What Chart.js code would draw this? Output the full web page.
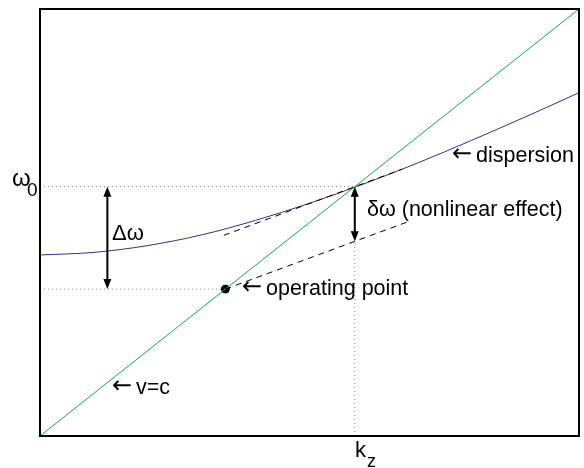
<!DOCTYPE html>
<html>
<head>
<meta charset="utf-8">
<script src="https://cdn.jsdelivr.net/npm/chart.js@4"></script>
<style>
  html, body { margin: 0; padding: 0; background: #fff; }
  #wrap { width: 584px; height: 468px; }
</style>
</head>
<body>
<div id="wrap"><canvas id="c" width="584" height="468"></canvas></div>
<script>
// values (axes run 0..1 in both directions)
const kGrid = [0, 0.1, 0.2, 0.3, 0.4, 0.5, 0.6, 0.7, 0.8, 0.9, 1.0];
const dispersionOmega = [0.424, 0.430, 0.446, 0.471, 0.505, 0.545, 0.590, 0.639, 0.692, 0.747, 0.804];
const lightK = [0, 1];
const lightOmega = [0, 1];
const tangentK = [0.341, 0.672];
const tangentOmega = [0.470, 0.625];
const shiftedK = [0.344, 0.681];
const shiftedOmega = [0.344, 0.501];
const k0 = 0.584;        // k_z
const omega0 = 0.584;    // ω0
const opK = 0.344;       // operating point
const opOmega = 0.344;
const nonlinOmega = 0.456;  // bottom of the δω arrow
const bigArrowK = 0.125;    // Δω arrow

const pts = (xs, ys) => xs.map((x, i) => ({ x, y: ys[i] }));
const FONT = '"Liberation Sans", Arial, Helvetica, sans-serif';

const line = (data, color, extra) => Object.assign({
  data, showLine: true, borderColor: color, borderWidth: 1, pointRadius: 0, fill: false, tension: 0
}, extra || {});

const dotted = { borderDash: [1, 3], borderColor: '#888' };

const overlay = {
  id: 'overlay',
  afterDatasetsDraw(chart) {
    const { ctx, chartArea: a, scales: { x, y } } = chart;
    const px = v => x.getPixelForValue(v);
    const py = v => y.getPixelForValue(v);

    // frame
    ctx.save();
    ctx.strokeStyle = '#000';
    ctx.lineWidth = 2;
    ctx.strokeRect(a.left, a.top, a.right - a.left, a.bottom - a.top);

    // double arrows
    const dblArrow = (xv, y1, y2) => {
      const X = px(xv), A = py(y1), B = py(y2);
      const h = 9, w = 4;
      ctx.lineWidth = 2;
      ctx.beginPath(); ctx.moveTo(X, A + h); ctx.lineTo(X, B - h); ctx.stroke();
      ctx.beginPath();
      ctx.moveTo(X, A); ctx.lineTo(X - w, A + h + 1); ctx.lineTo(X + w, A + h + 1); ctx.closePath();
      ctx.moveTo(X, B); ctx.lineTo(X - w, B - h - 1); ctx.lineTo(X + w, B - h - 1); ctx.closePath();
      ctx.fillStyle = '#000';
      ctx.fill();
    };
    dblArrow(bigArrowK, omega0, opOmega);
    dblArrow(k0, omega0, nonlinOmega);

    // labels with a long left arrow in front
    ctx.fillStyle = '#000';
    ctx.textBaseline = 'alphabetic';
    ctx.textAlign = 'left';
    const arrowLabel = (txt, X, Y) => {
      ctx.font = '24px "DejaVu Sans", sans-serif';
      ctx.fillText('\u2190', X - 1, Y - 1);
      ctx.font = '21.5px ' + FONT;
      ctx.fillText(txt, X + 23, Y);
    };
    arrowLabel('dispersion', 453, 162);
    arrowLabel('operating point', 243, 295);
    arrowLabel('v=c', 113, 394);
    ctx.font = '21.5px ' + FONT;
    ctx.fillText('\u03b4\u03c9 (nonlinear effect)', 367, 216);
    ctx.font = '22px ' + FONT;
    ctx.fillText('\u0394\u03c9', 112, 240);

    // axis labels
    ctx.font = '24px ' + FONT;
    ctx.fillText('\u03c9', 12, 186);
    ctx.font = '19px ' + FONT;
    ctx.fillText('0', 27, 196);
    ctx.font = '22px ' + FONT;
    ctx.fillText('k', 355, 457);
    ctx.font = '18px ' + FONT;
    ctx.fillText('z', 367, 467);
    ctx.restore();
  }
};

new Chart(document.getElementById('c'), {
  type: 'scatter',
  data: {
    datasets: [
      line(pts([0, k0], [omega0, omega0]), '#888', dotted),
      line(pts([k0, k0], [0, omega0]), '#888', dotted),
      line(pts([0, opK], [opOmega, opOmega]), '#888', dotted),
      line(pts(tangentK, tangentOmega), '#000', { borderDash: [6, 5] }),
      line(pts(shiftedK, shiftedOmega), '#000', { borderDash: [6, 5] }),
      line(pts(lightK, lightOmega), '#0fa844'),
      line(pts(kGrid, dispersionOmega), '#3b2a8f', { cubicInterpolationMode: 'monotone', tension: 0.4 }),
      { data: [{ x: opK, y: opOmega }], pointRadius: 4, pointBackgroundColor: '#000', pointBorderColor: '#000', showLine: false }
    ]
  },
  options: {
    responsive: false,
    animation: false,
    layout: { padding: { left: 40, top: 9, right: 1, bottom: 32 } },
    plugins: { legend: { display: false }, tooltip: { enabled: false } },
    scales: {
      x: { type: 'linear', min: 0, max: 1, display: false },
      y: { type: 'linear', min: 0, max: 1, display: false }
    }
  },
  plugins: [overlay]
});
</script>
</body>
</html>
